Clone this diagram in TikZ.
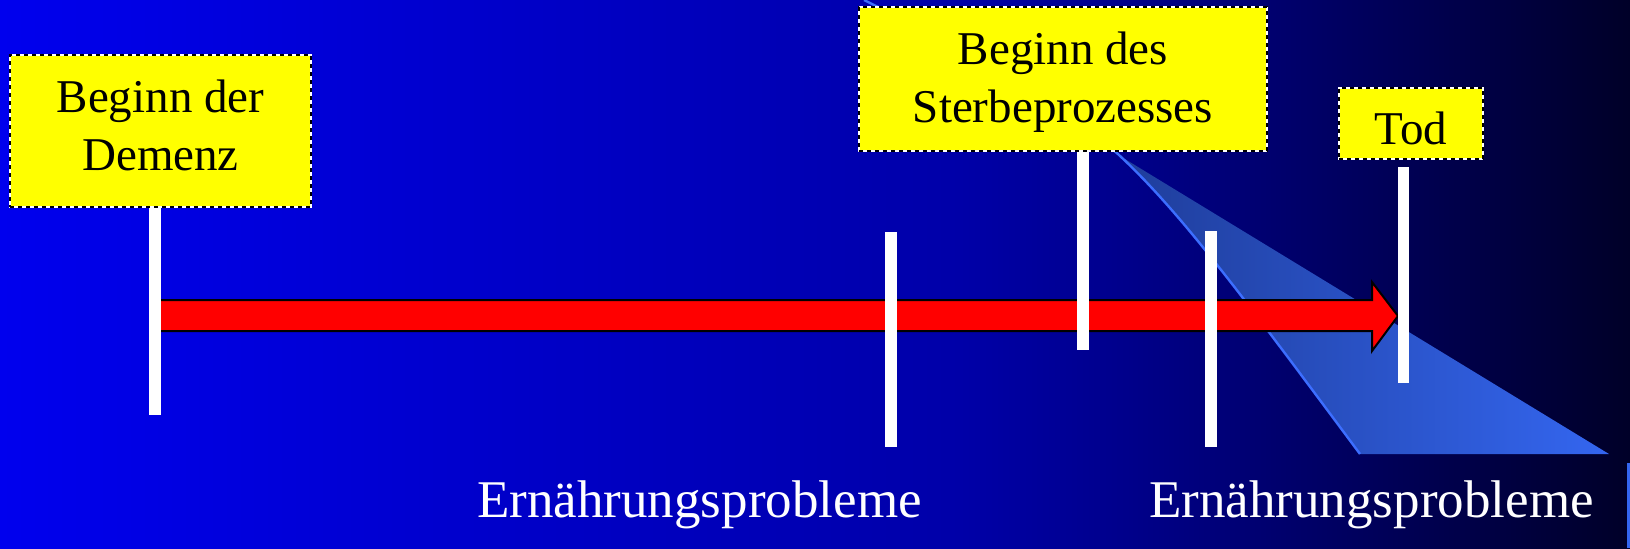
\documentclass[tikz,border=0pt]{standalone}
\usepackage{fontspec}
\setmainfont{Liberation Serif}
\definecolor{bgA}{RGB}{0,0,238}
\definecolor{bgB}{RGB}{0,0,168}
\definecolor{bgC}{RGB}{0,0,138}
\definecolor{bgD}{RGB}{0,0,40}
\definecolor{wedgeL}{RGB}{20,40,110}
\definecolor{wedgeR}{RGB}{52,102,240}
\definecolor{beam}{RGB}{60,110,255}
\definecolor{boxyellow}{RGB}{255,255,0}
\definecolor{arrowred}{RGB}{255,0,0}
\begin{document}
\begin{tikzpicture}[x=0.5pt,y=-0.5pt,
  pole/.style={rectangle, fill=white, inner sep=0pt, minimum width=6pt},
  tag/.style={rectangle, fill=boxyellow, draw=white, line width=0.8pt, inner sep=0pt,
    postaction={draw=black, line width=0.8pt, dash pattern=on 2pt off 2pt}},
  tagtext/.style={font=\fontsize{23.5}{29}\selectfont, anchor=base, inner sep=0pt, text=black},
  lbl/.style={font=\fontsize{26.5}{32}\selectfont, text=white, anchor=base, inner sep=0pt}]
\useasboundingbox (0,0) rectangle (1630,548);
% background
\shade[left color=bgA, right color=bgB] (0,0) rectangle (961,548);
\shade[left color=bgB, right color=bgC] (960,0) rectangle (1131,548);
\shade[left color=bgC, right color=bgD] (1130,0) rectangle (1630,548);
% light wedge
\coordinate (apex) at (864,0);
\coordinate (wl) at (1360,454);
\coordinate (wr) at (1609,454);
\shade[left color=wedgeL, right color=wedgeR] (apex) .. controls (1117,127) .. (wl) -- (wr) -- cycle;
\draw[beam, line width=1.2pt] (apex) .. controls (1117,127) .. (wl);
\fill[wedgeR] (1627,463) rectangle (1630,548);
% red arrow
\draw[fill=arrowred, line width=1pt, line join=miter]
  (155,300) -- (1372,300) -- (1372,282) -- (1398,316) -- (1372,351) -- (1372,331) -- (155,331) -- cycle;
% poles
\node[pole, minimum height=104pt] (p1) at (155,311) {};
\node[pole, minimum height=107.5pt] (p2) at (891,339.5) {};
\node[pole, minimum height=99.5pt] (p3) at (1083,250.5) {};
\node[pole, minimum height=108pt] (p4) at (1211,339) {};
\node[pole, minimum height=108pt, minimum width=5.5pt] (p5) at (1403.5,275) {};
% yellow tags
\node[tag, minimum width=150.5pt, minimum height=76pt] (b1) at (160.5,131) {};
\node[tag, minimum width=204pt, minimum height=72pt] (b2) at (1063,79) {};
\node[tag, minimum width=72pt, minimum height=35.5pt] (b3) at (1411,123.5) {};
\node[tagtext] (t1a) at (160.5,112) {Beginn der};
\node[tagtext] (t1b) at (160.5,170) {Demenz};
\node[tagtext] (t2a) at (1063,64) {Beginn des};
\node[tagtext] (t2b) at (1063,122) {Sterbeprozesses};
\node[tagtext] (t3) at (1411,144) {Tod};
% bottom labels
\node[lbl] (l1) at (699.5,517) {Ernährungsprobleme};
\node[lbl] (l2) at (1371.5,517) {Ernährungsprobleme};
\end{tikzpicture}
\end{document}
